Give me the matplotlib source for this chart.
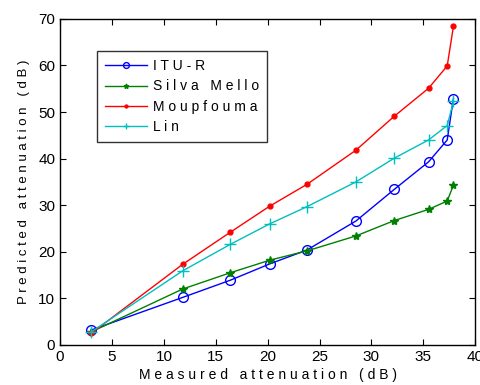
import matplotlib
matplotlib.use('Agg')
import matplotlib.pyplot as plt

plt.rcParams['font.family'] = ['Liberation Sans', 'DejaVu Sans']

# measured attenuation (dB)
measured = [3.0, 11.8, 16.4, 20.2, 23.8, 28.5, 32.2, 35.5, 37.3, 37.9]

itu_r = [3.2, 10.2, 13.9, 17.4, 20.4, 26.6, 33.4, 39.3, 44.0, 52.9]
silva_mello = [2.8, 12.0, 15.5, 18.2, 20.2, 23.4, 26.7, 29.1, 30.9, 34.3]
moupfouma = [2.5, 17.3, 24.2, 29.8, 34.5, 41.8, 49.1, 55.1, 59.9, 68.4]
lin = [2.8, 15.9, 21.6, 26.0, 29.7, 35.0, 40.1, 44.0, 47.1, 52.3]

x_ticks = [0, 5, 10, 15, 20, 25, 30, 35, 40]
y_ticks = [0, 10, 20, 30, 40, 50, 60, 70]


def spaced(s):
    return ' '.join(s)


fig = plt.figure(figsize=(4.81, 3.85), dpi=100)
ax = fig.add_axes([0.125, 0.104, 0.863, 0.847])

ax.plot(measured, itu_r, color='#0000ff', marker='o', markersize=7,
        markerfacecolor='none', linewidth=1, label=spaced('ITU-R'))
ax.plot(measured, silva_mello, color='#008000', marker='*', markersize=6,
        linewidth=1, label=spaced('Silva Mello'))
ax.plot(measured, moupfouma, color='#ff0000', marker='.', markersize=7,
        linewidth=1, label=spaced('Moupfouma'))
ax.plot(measured, lin, color='#00bfbf', marker='+', markersize=8,
        linewidth=1, label=spaced('Lin'))

ax.set_xlim(0, 40)
ax.set_ylim(0, 70)
ax.set_xticks(x_ticks)
ax.set_yticks(y_ticks)
ax.tick_params(direction='in', top=True, right=True, labelsize=11, length=4)
for sp in ax.spines.values():
    sp.set_linewidth(1)

ax.set_xlabel(spaced('Measured attenuation (dB)'), fontsize=10, labelpad=3)
ax.set_ylabel(spaced('Predicted attenuation (dB)'), fontsize=9.5, labelpad=6)

leg = ax.legend(loc='upper left', bbox_to_anchor=(0.089, 0.902), fontsize=10,
                frameon=True, fancybox=False, edgecolor='black',
                handlelength=3.0, handletextpad=0.4, markerscale=0.6,
                borderpad=0.6, labelspacing=0.45, borderaxespad=0)
leg.get_frame().set_linewidth(1)

fig.savefig('out.png', dpi=100)
